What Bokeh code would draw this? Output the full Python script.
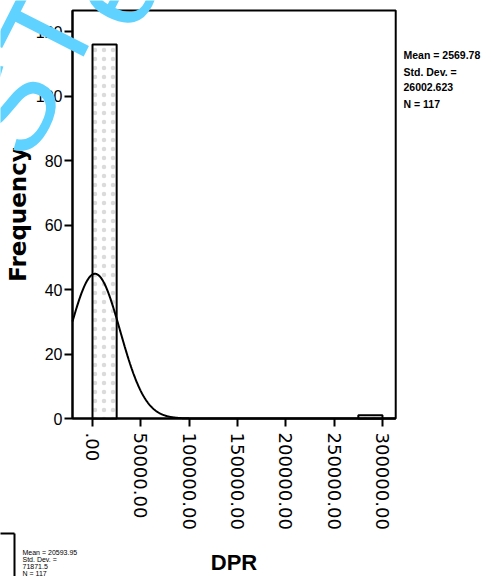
import numpy as np
from bokeh.plotting import figure
from bokeh.models import Range1d, Label, FixedTicker
from bokeh.embed import file_html
from bokeh.resources import INLINE

# ---- data ----
bin_left = [0, 275000]
bin_right = [25000, 300000]
bin_counts = [116, 1]
x_ticks = [0, 50000, 100000, 150000, 200000, 250000, 300000]
x_tick_labels = [".00", "50000.00", "100000.00", "150000.00", "200000.00", "250000.00", "300000.00"]
y_ticks = [0, 20, 40, 60, 80, 100, 120]
stat_mean = 2569.78
stat_sd = 26002.623
stat_n = 117
bin_width = 25000
stats_lines = ["Mean = 2569.78", "Std. Dev. =", "26002.623", "N = 117"]
ghost_lines = ["Mean = 20593.95", "Std. Dev. =", "71871.5", "N = 117"]
watermark = ["S", "T", "e"]

# plotting box (data extent of the drawn frame)
BOX_X0, BOX_X1 = -20700, 313700
BOX_Y0, BOX_Y1 = 0, 126.5

# mapping of the reference picture: px per unit
PX_X = 48.33 / 50000.0
PX_Y = 3.225
W, H = 483, 576
def dx(ref_x):
    return (ref_x - 92) / PX_X
def dy(ref_y):
    return (418 - ref_y) / PX_Y

p = figure(width=W, height=H,
           x_range=Range1d(dx(0), dx(W)), y_range=Range1d(dy(H), dy(0)),
           output_backend="svg", toolbar_location=None,
           min_border_left=0, min_border_right=0, min_border_top=0, min_border_bottom=0)
p.xgrid.visible = False
p.ygrid.visible = False
p.outline_line_color = None
p.background_fill_color = "white"
p.border_fill_color = "white"

# frame box
p.quad(left=[BOX_X0], right=[BOX_X1], bottom=[BOX_Y0], top=[BOX_Y1],
       fill_color=None, line_color="black", line_width=2)

# bars
p.quad(left=bin_left, right=bin_right, bottom=0, top=bin_counts,
       fill_color="white", line_color="black", line_width=2,
       hatch_pattern="dot", hatch_color="#999999", hatch_scale=9, hatch_alpha=0.35, hatch_weight=0.5)

# normal curve from stated statistics
xs = np.linspace(BOX_X0, BOX_X1, 800)
ys = stat_n * bin_width / (stat_sd * np.sqrt(2 * np.pi)) * np.exp(-0.5 * ((xs - stat_mean) / stat_sd) ** 2)
p.line(xs, ys, line_color="black", line_width=2)

# axes
xa = p.xaxis[0]
xa.fixed_location = BOX_Y0
xa.bounds = (BOX_X0, BOX_X1)
xa.ticker = FixedTicker(ticks=x_ticks)
xa.major_label_overrides = {t: l for t, l in zip(x_ticks, x_tick_labels)}
xa.major_label_orientation = -np.pi / 2
xa.major_label_text_font = "DejaVu Sans"
xa.major_label_text_font_size = "18px"
xa.major_label_text_color = "black"
xa.major_label_standoff = 6
xa.major_tick_out = 8
xa.major_tick_in = 0
xa.minor_tick_out = 0
xa.minor_tick_in = 0
xa.axis_line_width = 2
xa.major_tick_line_width = 2
xa.axis_label = "DPR"
xa.axis_label_text_font = "Liberation Sans"
xa.axis_label_text_font_size = "22px"
xa.axis_label_text_font_style = "bold"
xa.axis_label_text_color = "black"
xa.axis_label_standoff = 17

ya = p.yaxis[0]
ya.fixed_location = BOX_X0
ya.bounds = (BOX_Y0, BOX_Y1)
ya.ticker = FixedTicker(ticks=y_ticks)
ya.major_label_text_font = "Liberation Sans"
ya.major_label_text_font_size = "16px"
ya.major_label_text_color = "black"
ya.major_label_standoff = 2
ya.major_tick_out = 8
ya.major_tick_in = 0
ya.minor_tick_out = 0
ya.minor_tick_in = 0
ya.axis_line_width = 2
ya.major_tick_line_width = 2
ya.axis_label = "Frequency"
ya.axis_label_text_font = "DejaVu Sans"
ya.axis_label_text_font_size = "23px"
ya.axis_label_text_font_style = "bold"
ya.axis_label_text_color = "black"
ya.axis_label_standoff = 2

# stats at right
for txt, ry in zip(stats_lines, [54, 71, 86, 103]):
    p.add_layout(Label(x=dx(403), y=dy(ry), text=txt, text_font="Liberation Sans",
                       text_font_size="10.5px", text_font_style="bold", text_color="black",
                       text_baseline="middle"))

# ghost stats of a neighbouring chart at bottom-left
for txt, ry in zip(ghost_lines, [552, 559, 566, 573]):
    p.add_layout(Label(x=dx(22), y=dy(ry), text=txt, text_font="Liberation Sans",
                       text_font_size="7px", text_color="black", text_baseline="middle"))
p.segment(x0=[dx(-4), dx(14)], y0=[dy(533), dy(533)], x1=[dx(14), dx(14)], y1=[dy(533), dy(600)],
          line_color="black", line_width=2)

# cyan watermark
for txt, rx, ry in zip(watermark, [9, 47, 112], [107, 31, -14]):
    p.add_layout(Label(x=dx(rx), y=dy(ry), text=txt, text_font="Liberation Sans", text_font_size="125px",
                       text_color="#5fd2ff", text_align="center", text_baseline="middle", angle=1.1))

open("out.html", "w").write(file_html(p, INLINE))
